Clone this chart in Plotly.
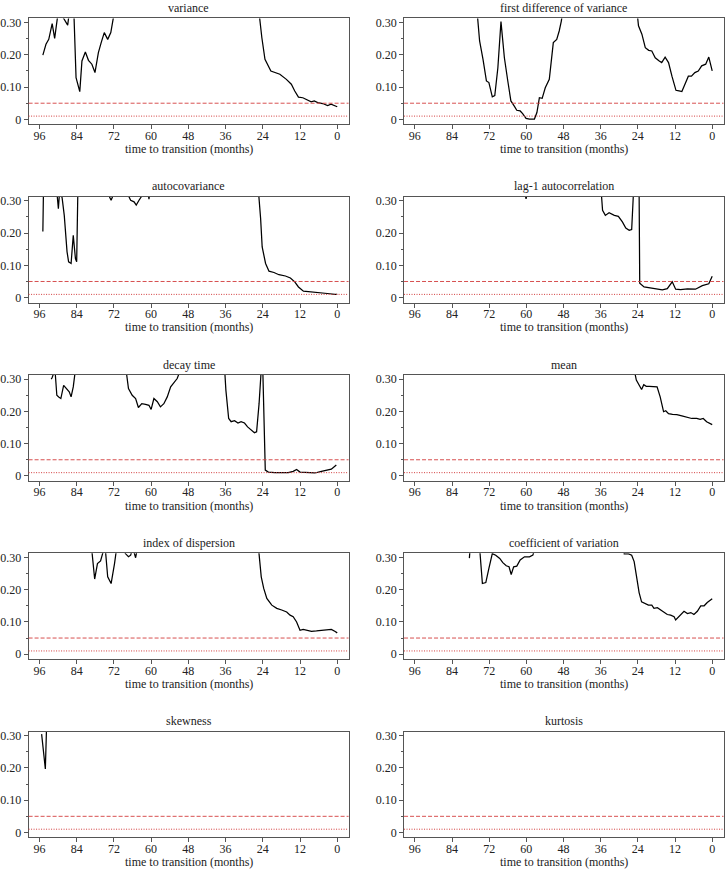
import plotly.graph_objects as go

# ---------------- data (months to transition, p-value-like statistic) ----------------
titles = ["variance", "first difference of variance", "autocovariance", "lag-1 autocorrelation",
          "decay time", "mean", "index of dispersion", "coefficient of variation",
          "skewness", "kurtosis"]

x_ticks = [96, 84, 72, 60, 48, 36, 24, 12, 0]
y_ticks = [0, 0.10, 0.20, 0.30]
y_tick_text = ["0", "0.10", "0.20", "0.30"]
sig_dashed = 0.05
sig_dotted = 0.01

variance_t = [94.9, 93.9, 93.0, 91.9, 91.1, 90.0, 88.5, 86.9, 86.4, 85.0, 84.2, 83.0, 82.3, 81.2,
              80.2, 79.1, 78.1, 77.0, 76.1, 75.1, 74.0, 73.0, 71.9, 66, 55, 45, 35, 28, 25.2,
              24.3, 23.3, 21.4, 20.1, 18.5, 16.4, 14.8, 13.7, 12.5, 11.1, 9.7, 8.4, 7.4, 6.3,
              4.7, 3.1, 2.0, 0.0]
variance_v = [0.199, 0.233, 0.248, 0.297, 0.251, 0.33, 0.318, 0.292, 0.33, 0.36, 0.129, 0.086,
              0.181, 0.209, 0.183, 0.171, 0.145, 0.207, 0.238, 0.269, 0.248, 0.269, 0.33, 0.5,
              0.6, 0.6, 0.6, 0.5, 0.33, 0.253, 0.186, 0.150, 0.145, 0.140, 0.124, 0.109, 0.088,
              0.069, 0.067, 0.059, 0.054, 0.057, 0.052, 0.049, 0.043, 0.047, 0.039]

fdvar_t = [95, 85, 76.5, 75.1, 74.0, 72.9, 72.1, 71.0, 70.2, 69.2, 68.2, 67.1, 66.0, 65.0, 63.9,
           63.1, 62.0, 61.2, 60.1, 59.0, 57.4, 56.6, 55.8, 54.9, 53.9, 52.6, 51.3, 50.2, 49.4,
           48.7, 47.5, 40, 30, 25, 23.8, 22.7, 21.6, 20.5, 19.5, 18.4, 17.1, 16.3, 15.2, 14.1,
           13.0, 11.7, 10.7, 9.8, 8.8, 7.7, 6.7, 5.6, 4.5, 3.4, 2.1, 1.1, 0.0]
fdvar_v = [0.6, 0.6, 0.4, 0.243, 0.186, 0.119, 0.114, 0.070, 0.074, 0.160, 0.303, 0.191, 0.119,
           0.057, 0.041, 0.028, 0.026, 0.018, 0.003, 0.001, 0.001, 0.021, 0.067, 0.065, 0.098,
           0.124, 0.238, 0.248, 0.274, 0.305, 0.4, 0.6, 0.6, 0.4, 0.29, 0.264, 0.222, 0.214,
           0.212, 0.191, 0.181, 0.176, 0.193, 0.176, 0.134, 0.090, 0.088, 0.086, 0.109, 0.134,
           0.134, 0.145, 0.150, 0.166, 0.171, 0.193, 0.150]

autocov_t = [94.9, 94.6, 92, 90.3, 89.9, 89.5, 88.7, 88.0, 87.1, 86.6, 85.8, 85.1, 84.4, 84.0,
             83.5, 78, 73.6, 72.9, 72.3, 67.3, 66.6, 65.5, 64.8, 63.9, 62.9, 62, 60.9, 60.7,
             60.4, 45, 30, 25.4, 24.7, 24.2, 23.1, 22.0, 20.4, 18.8, 16.7, 15.1, 13.7, 12.5,
             10.9, 8.8, 6.6, 4.5, 2.4, 0.8, 0.0]
autocov_v = [0.205, 0.4, 0.5, 0.33, 0.276, 0.33, 0.31, 0.255, 0.142, 0.111, 0.106, 0.193, 0.121,
             0.111, 0.4, 0.5, 0.316, 0.302, 0.316, 0.316, 0.302, 0.297, 0.287, 0.302, 0.316,
             0.33, 0.32, 0.305, 0.33, 0.6, 0.6, 0.33, 0.245, 0.157, 0.106, 0.082, 0.078, 0.071,
             0.067, 0.061, 0.049, 0.033, 0.020, 0.018, 0.018, 0.016, 0.012, 0.010, 0.010]

lag1_t = [95, 80, 61, 60.1, 59.2, 45, 36.0, 35.4, 34.5, 33.3, 31.6, 30.3, 29.0, 27.9, 26.8,
          26.0, 25.4, 24.5, 23.6, 23.4, 22.0, 20.4, 18.2, 16.1, 14.5, 12.9, 11.8, 10.2, 8.0,
          5.4, 3.2, 1.1, 0.0]
lag1_v = [0.6, 0.6, 0.35, 0.306, 0.35, 0.6, 0.35, 0.271, 0.255, 0.263, 0.255, 0.252, 0.235,
          0.216, 0.209, 0.211, 0.33, 0.4, 0.33, 0.045, 0.033, 0.030, 0.027, 0.024, 0.028,
          0.049, 0.026, 0.025, 0.027, 0.026, 0.037, 0.043, 0.066]

decay_t = [92.2, 91.9, 91.0, 90.4, 89.8, 89.1, 88.2, 87.2, 86.4, 85.8, 85.1, 84.4, 76, 68.1,
           67.3, 66.1, 65.0, 64.1, 63.0, 61.8, 60.7, 60.0, 59.1, 58.0, 57.0, 55.9, 54.8, 53.7,
           52.7, 51.6, 50.5, 43, 36.3, 35.9, 35.0, 34.2, 33.1, 32.0, 31.0, 29.9, 28.9, 27.8,
           26.7, 26.0, 25.2, 24.5, 24.0, 23.2, 22.2, 20.1, 17.9, 15.8, 14.2, 13.1, 12.0, 9.9,
           7.2, 5.1, 3.5, 1.9, 0.3]
decay_v = [0.300, 0.305, 0.33, 0.250, 0.245, 0.240, 0.281, 0.271, 0.261, 0.245, 0.276, 0.33,
           0.6, 0.33, 0.271, 0.250, 0.240, 0.212, 0.224, 0.222, 0.219, 0.206, 0.240, 0.230,
           0.214, 0.224, 0.245, 0.276, 0.287, 0.302, 0.33, 0.6, 0.33, 0.266, 0.178, 0.168,
           0.171, 0.164, 0.168, 0.164, 0.152, 0.142, 0.134, 0.137, 0.224, 0.33, 0.33, 0.018,
           0.012, 0.010, 0.009, 0.010, 0.014, 0.020, 0.012, 0.010, 0.009, 0.014, 0.018, 0.021,
           0.034]

mean_t = [95, 60, 30, 25.2, 24.5, 23.6, 22.8, 22.1, 21.3, 20.3, 18.9, 17.8, 16.8, 15.7, 15.0,
          14.1, 12.8, 11.4, 9.8, 8.2, 6.6, 5.0, 3.9, 2.9, 1.8, 0.0]
mean_v = [0.6, 0.6, 0.45, 0.33, 0.297, 0.281, 0.268, 0.283, 0.278, 0.278, 0.276, 0.276, 0.245,
          0.199, 0.202, 0.193, 0.191, 0.190, 0.186, 0.183, 0.178, 0.178, 0.175, 0.178, 0.168,
          0.159]

disp_t = [95, 85, 79.2, 78.7, 78.2, 77.3, 76.3, 75.4, 74.8, 74.0, 72.9, 71.8, 71.1, 69.5, 68.3,
          67.3, 66.6, 65.9, 65.0, 64.4, 55, 40, 30, 25.4, 24.5, 23.7, 22.7, 21.1, 19.5, 17.9,
          16.3, 15.2, 14.2, 13.1, 12.0, 11.0, 9.9, 8.3, 6.7, 5.0, 3.5, 1.9, 0.8, 0.0]
disp_v = [0.6, 0.6, 0.33, 0.276, 0.233, 0.281, 0.289, 0.32, 0.33, 0.240, 0.219, 0.281, 0.33,
          0.36, 0.312, 0.302, 0.307, 0.33, 0.299, 0.33, 0.6, 0.6, 0.5, 0.33, 0.240, 0.204,
          0.173, 0.152, 0.142, 0.137, 0.131, 0.121, 0.116, 0.100, 0.074, 0.077, 0.074, 0.071,
          0.072, 0.074, 0.074, 0.077, 0.071, 0.066]

cv_t = [78.4, 77.6, 76.5, 75.1, 74.2, 73.1, 72.1, 71.0, 69.9, 68.6, 67.6, 66.5, 65.6, 64.9,
        64.1, 63.1, 62.0, 60.6, 59.0, 57.9, 57.2, 45, 35, 29.2, 28.4, 27.0, 26.0, 25.2, 24.5,
        23.6, 22.8, 21.7, 20.6, 19.5, 18.8, 17.7, 16.6, 15.6, 14.5, 13.4, 12.3, 11.8, 10.9, 9.8,
        9.1, 8.0, 6.9, 5.9, 4.8, 3.7, 2.6, 1.6, 0.0]
cv_v = [0.298, 0.4, 0.4, 0.33, 0.219, 0.222, 0.266, 0.312, 0.307, 0.297, 0.284, 0.274, 0.271,
        0.247, 0.271, 0.273, 0.292, 0.302, 0.302, 0.307, 0.33, 0.6, 0.6, 0.4, 0.311, 0.311,
        0.307, 0.287, 0.245, 0.191, 0.162, 0.157, 0.152, 0.152, 0.142, 0.144, 0.137, 0.129,
        0.123, 0.121, 0.116, 0.106, 0.116, 0.126, 0.133, 0.126, 0.129, 0.123, 0.133, 0.150,
        0.150, 0.160, 0.172]

skew_t = [95.3, 94.1, 93.7, 93.0]
skew_v = [0.305, 0.197, 0.33, 0.5]

kurt_t = []
kurt_v = []

series = [(variance_t, variance_v), (fdvar_t, fdvar_v), (autocov_t, autocov_v),
          (lag1_t, lag1_v), (decay_t, decay_v), (mean_t, mean_v), (disp_t, disp_v),
          (cv_t, cv_v), (skew_t, skew_v), (kurt_t, kurt_v)]

# ---------------- layout geometry (pixels) ----------------
W, H = 725, 876
col_x = [(25.7, 347.0), (402.7, 723.5)]
row_top0, row_bot0, row_step = 15.5, 122.0, 179.3
FONT = "Liberation Serif"
AXIS_COL = "#555555"
TEXT_COL = "#222222"
RED = "#d23c3c"

fig = go.Figure()
annotations = []
shapes = []

for i, (t, v) in enumerate(series):
    r, c = divmod(i, 2)
    n = "" if i == 0 else str(i + 1)
    x0p, x1p = col_x[c]
    top = row_top0 + row_step * r
    bot = row_bot0 + row_step * r
    xd = [x0p / W, x1p / W]
    yd = [1 - bot / H, 1 - top / H]

    fig.add_trace(go.Scatter(x=t, y=v, mode="lines", xaxis="x" + n, yaxis="y" + n,
                             line=dict(color="black", width=1.25), showlegend=False,
                             hoverinfo="skip"))

    fig.layout["xaxis" + n] = dict(
        domain=xd, anchor="y" + n, range=[99.5, -3.65], tickmode="array", tickvals=x_ticks,
        ticks="outside", ticklen=4, tickcolor=AXIS_COL, showline=True, linecolor=AXIS_COL,
        linewidth=1, mirror=True, showgrid=False, zeroline=False, ticklabelstandoff=-4,
        tickfont=dict(family=FONT, size=12, color=TEXT_COL))
    fig.layout["yaxis" + n] = dict(
        domain=yd, anchor="x" + n, range=[-0.0154, 0.313], tickmode="array",
        tickvals=y_ticks, ticktext=y_tick_text, ticks="outside", ticklen=4,
        tickcolor=AXIS_COL, showline=True, linecolor=AXIS_COL, linewidth=1, mirror=True,
        showgrid=False, zeroline=False,
        minor=dict(tickmode="array", tickvals=[0.05, 0.15, 0.25], ticks="outside",
                   ticklen=2, tickcolor=AXIS_COL, showgrid=False),
        tickfont=dict(family=FONT, size=12, color=TEXT_COL))

    for yv, dash, wd in ((sig_dashed, "4px,2px", 0.9), (sig_dotted, "1px,1.5px", 1.0)):
        shapes.append(dict(type="line", xref="x" + n + " domain", yref="y" + n,
                           x0=0, x1=1, y0=yv, y1=yv,
                           line=dict(color=RED, width=wd, dash=dash)))

    xc = (xd[0] + xd[1]) / 2
    annotations.append(dict(text=titles[i], x=xc, y=1 - (top - 10.5) / H, xref="paper",
                            yref="paper", showarrow=False, xanchor="center",
                            yanchor="middle",
                            font=dict(family=FONT, size=12, color=TEXT_COL)))
    annotations.append(dict(text="time to transition (months)", x=xc,
                            y=1 - (bot + 25) / H, xref="paper", yref="paper",
                            showarrow=False, xanchor="center", yanchor="middle",
                            font=dict(family=FONT, size=12, color=TEXT_COL)))

fig.update_layout(width=W, height=H, margin=dict(l=0, r=0, t=0, b=0),
                  paper_bgcolor="white", plot_bgcolor="white",
                  annotations=annotations, shapes=shapes,
                  font=dict(family=FONT, size=12, color=TEXT_COL))

fig.write_html("out.html", config={"displayModeBar": False},
               post_script="document.body.style.margin='0';document.body.style.overflow='hidden';")
